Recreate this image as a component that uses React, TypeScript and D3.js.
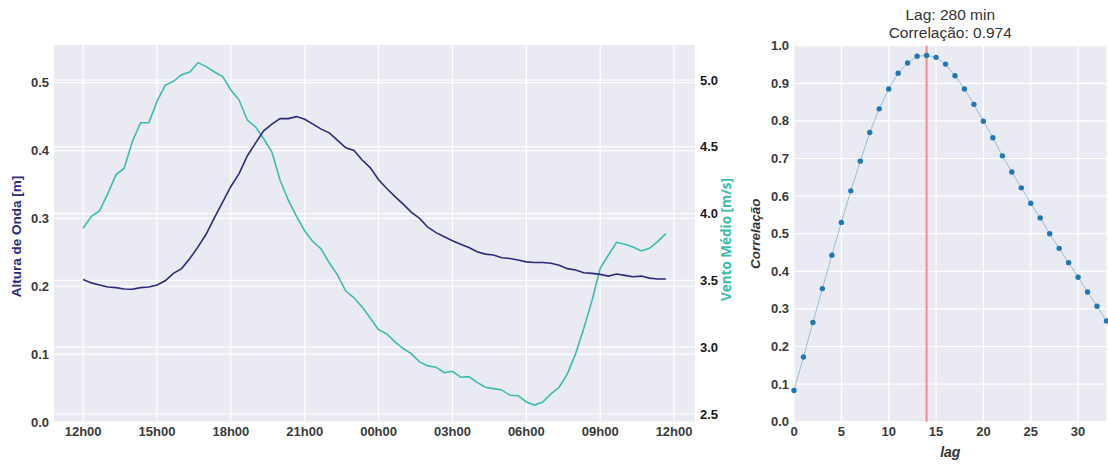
import React from "react";
import * as d3 from "d3";

// ---- Data ----
// time steps: every 20 min starting 12h00 (hours since start)
const stepHours = 20 / 60;
const waveHeight = [
  0.210, 0.205, 0.202, 0.199, 0.198, 0.196, 0.1955, 0.198, 0.199, 0.202,
  0.208, 0.219, 0.226, 0.241, 0.258, 0.277, 0.301, 0.324, 0.347, 0.366,
  0.392, 0.411, 0.429, 0.439, 0.447, 0.447, 0.450, 0.446, 0.439, 0.4315,
  0.426, 0.415, 0.404, 0.400, 0.386, 0.3745, 0.357, 0.344, 0.332, 0.321,
  0.309, 0.300, 0.287, 0.279, 0.273, 0.267, 0.262, 0.257, 0.251, 0.2474,
  0.246, 0.242, 0.241, 0.2386, 0.236, 0.235, 0.235, 0.234, 0.231, 0.226,
  0.224, 0.220, 0.219, 0.2175, 0.215, 0.218, 0.216, 0.214, 0.215, 0.212,
  0.2106, 0.2106,
];
const windSpeed = [
  3.89, 3.98, 4.02, 4.15, 4.29, 4.34, 4.54, 4.68, 4.68, 4.84,
  4.96, 4.99, 5.04, 5.06, 5.13, 5.10, 5.06, 5.025, 4.925, 4.85,
  4.70, 4.65, 4.56, 4.46, 4.25, 4.10, 3.98, 3.87, 3.79, 3.735,
  3.63, 3.54, 3.42, 3.37, 3.30, 3.216, 3.13, 3.10, 3.04, 2.99,
  2.95, 2.89, 2.86, 2.85, 2.81, 2.82, 2.775, 2.78, 2.737, 2.70,
  2.69, 2.68, 2.64, 2.637, 2.59, 2.567, 2.59, 2.65, 2.70, 2.80,
  2.95, 3.14, 3.35, 3.59, 3.69, 3.785, 3.77, 3.75, 3.72, 3.74,
  3.79, 3.85,
];
const timeTickHours = [0, 3, 6, 9, 12, 15, 18, 21, 24];
const timeTickLabels = ["12h00", "15h00", "18h00", "21h00", "00h00", "03h00", "06h00", "09h00", "12h00"];
const waveTicks = [0.0, 0.1, 0.2, 0.3, 0.4, 0.5];
const windTicks = [2.5, 3.0, 3.5, 4.0, 4.5, 5.0];

const correlation = [
  0.083, 0.172, 0.264, 0.354, 0.443, 0.530, 0.614, 0.693, 0.769, 0.832,
  0.885, 0.927, 0.954, 0.972, 0.974, 0.969, 0.951, 0.920, 0.885, 0.844,
  0.799, 0.755, 0.707, 0.664, 0.622, 0.581, 0.542, 0.500, 0.461, 0.423,
  0.384, 0.345, 0.307, 0.268,
];
const bestLag = 14;
const lagTicks = [0, 5, 10, 15, 20, 25, 30];
const corrTicks = [0.0, 0.1, 0.2, 0.3, 0.4, 0.5, 0.6, 0.7, 0.8, 0.9, 1.0];

const NAVY = "#2d2a7c";
const TEAL = "#3cbcae";
const BG = "#eaeaf2";
const FONT = "'Liberation Sans', Arial, sans-serif";

export default function App() {
  // Left chart
  const L = { x0: 54, x1: 695, y0: 45, y1: 422 };
  const n = waveHeight.length;
  const tMax = (n - 1) * stepHours;
  const pad = tMax * 0.05;
  const x = d3.scaleLinear().domain([-pad, tMax + pad]).range([L.x0, L.x1]);
  const yW = d3.scaleLinear().domain([0, 0.5555]).range([L.y1, L.y0]);
  const yV = d3.scaleLinear().domain([2.44, 5.262]).range([L.y1, L.y0]);
  const waveLine = d3.line<number>().x((_, i) => x(i * stepHours)).y((d) => yW(d))(waveHeight) || "";
  const windLine = d3.line<number>().x((_, i) => x(i * stepHours)).y((d) => yV(d))(windSpeed) || "";

  // Right chart
  const R = { x0: 794, x1: 1106.5, y0: 45.7, y1: 421.7 };
  const xl = d3.scaleLinear().domain([0, correlation.length - 1]).range([R.x0, R.x1]);
  const yc = d3.scaleLinear().domain([0, 1]).range([R.y1, R.y0]);
  const corrLine = d3.line<number>().x((_, i) => xl(i)).y((d) => yc(d))(correlation) || "";

  return (
    <svg
      width={1108}
      height={466}
      style={{ position: "absolute", left: 0, top: 0, display: "block", background: "#fff" }}
      fontFamily={FONT}
    >
      {/* ---------- Left chart ---------- */}
      <rect x={L.x0} y={L.y0} width={L.x1 - L.x0} height={L.y1 - L.y0} fill={BG} />
      <g stroke="#fff" strokeWidth={1.2}>
        {timeTickHours.map((h, i) => (
          <line key={"xg" + i} x1={x(h)} x2={x(h)} y1={L.y0} y2={L.y1} />
        ))}
        {waveTicks.map((t, i) => (
          <line key={"wg" + i} x1={L.x0} x2={L.x1} y1={yW(t)} y2={yW(t)} />
        ))}
        {windTicks.map((t, i) => (
          <line key={"vg" + i} x1={L.x0} x2={L.x1} y1={yV(t)} y2={yV(t)} />
        ))}
      </g>
      <path d={windLine} fill="none" stroke={TEAL} strokeWidth={1.6} />
      <path d={waveLine} fill="none" stroke={NAVY} strokeWidth={1.6} />
      <g fontSize={13} fontWeight="bold" fill="#3a3a3a">
        {waveTicks.map((t, i) => (
          <text key={"wt" + i} x={L.x0 - 5} y={yW(t)} dy="0.35em" textAnchor="end">
            {t.toFixed(1)}
          </text>
        ))}
        {timeTickHours.map((h, i) => (
          <text key={"xt" + i} x={x(h)} y={436} textAnchor="middle">
            {timeTickLabels[i]}
          </text>
        ))}
      </g>
      <g fontSize={13} fontWeight="bold" fill="#1a1a1a">
        {windTicks.map((t, i) => (
          <text key={"vt" + i} x={L.x1 + 5} y={yV(t)} dy="0.35em" textAnchor="start">
            {t.toFixed(1)}
          </text>
        ))}
      </g>
      <text
        transform={`translate(21,${(L.y0 + L.y1) / 2 + 3}) rotate(-90)`}
        textAnchor="middle"
        fontSize={13.5}
        fontWeight="bold"
        fill={NAVY}
      >
        Altura de Onda [m]
      </text>
      <text
        transform={`translate(731,${(L.y0 + L.y1) / 2 + 6}) rotate(-90)`}
        textAnchor="middle"
        fontSize={13.5}
        fontWeight="bold"
        fill={TEAL}
        fontFamily="'Open Sans', sans-serif"
      >
        Vento Médio [m/s]
      </text>

      {/* ---------- Right chart ---------- */}
      <rect x={R.x0} y={R.y0} width={R.x1 - R.x0} height={R.y1 - R.y0} fill={BG} />
      <g stroke="#fff" strokeWidth={1.2}>
        {lagTicks.map((t, i) => (
          <line key={"lg" + i} x1={xl(t)} x2={xl(t)} y1={R.y0} y2={R.y1} />
        ))}
        {corrTicks.map((t, i) => (
          <line key={"cg" + i} x1={R.x0} x2={R.x1} y1={yc(t)} y2={yc(t)} />
        ))}
      </g>
      <line x1={xl(bestLag)} x2={xl(bestLag)} y1={R.y0} y2={R.y1} stroke="#f28a90" strokeWidth={2} />
      <path d={corrLine} fill="none" stroke="#1f77b4" strokeOpacity={0.4} strokeWidth={1} />
      <g fill="#1f77b4">
        {correlation.map((c, i) => (
          <circle key={"c" + i} cx={xl(i)} cy={yc(c)} r={2.7} />
        ))}
      </g>
      <g fontSize={13} fontWeight="bold" fill="#3a3a3a">
        {corrTicks.map((t, i) => (
          <text key={"ct" + i} x={R.x0 - 5} y={yc(t)} dy="0.35em" textAnchor="end">
            {t.toFixed(1)}
          </text>
        ))}
        {lagTicks.map((t, i) => (
          <text key={"lt" + i} x={xl(t)} y={436} textAnchor="middle">
            {t}
          </text>
        ))}
      </g>
      <text x={(R.x0 + R.x1) / 2} y={457} textAnchor="middle" fontSize={14} fontWeight="bold" fontStyle="italic" fill="#333">
        lag
      </text>
      <text
        transform={`translate(760,${(R.y0 + R.y1) / 2}) rotate(-90)`}
        textAnchor="middle"
        fontSize={13.5}
        fontWeight="bold"
        fontStyle="italic"
        fill="#333"
      >
        Correlação
      </text>
      <g fontSize={15.5} fill="#333" textAnchor="middle">
        <text x={(R.x0 + R.x1) / 2} y={20}>Lag: 280 min</text>
        <text x={(R.x0 + R.x1) / 2} y={38}>Correlação: 0.974</text>
      </g>
    </svg>
  );
}
